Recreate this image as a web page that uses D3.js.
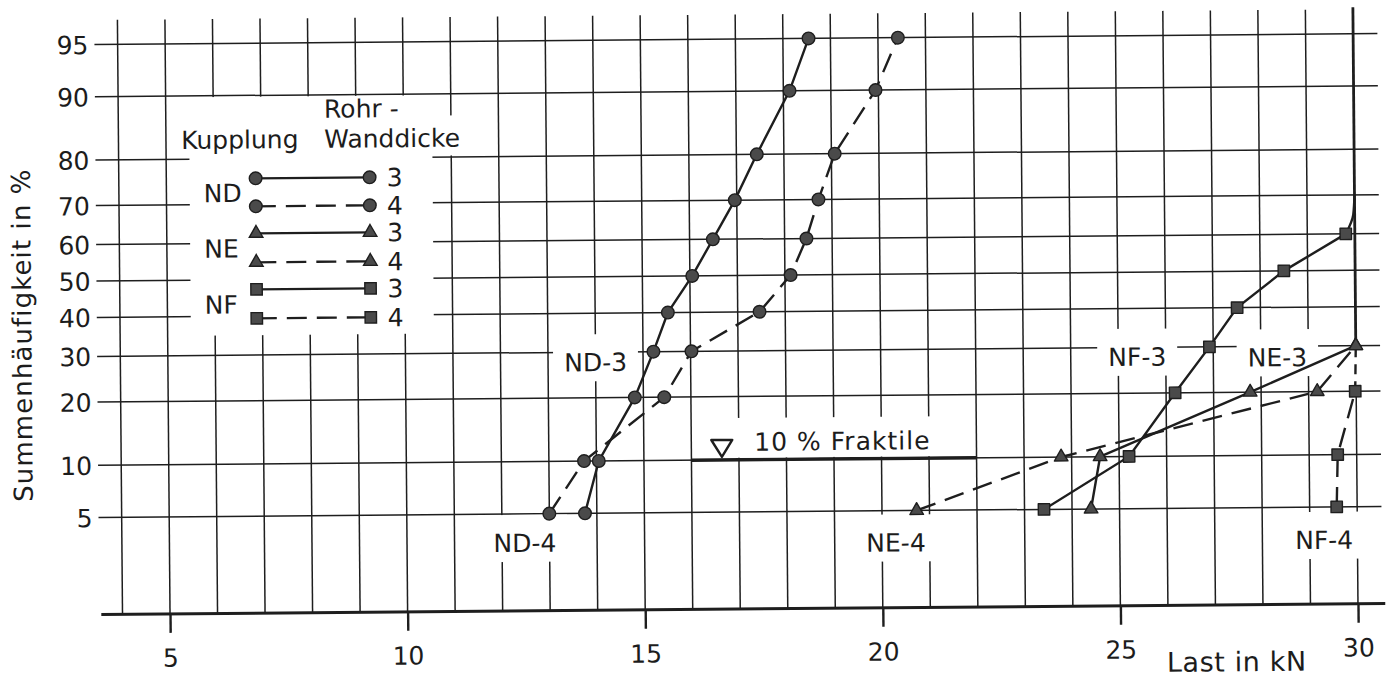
<!DOCTYPE html>
<html><head><meta charset="utf-8">
<script src="https://cdn.jsdelivr.net/npm/d3@7"></script>
<style>
html,body{margin:0;padding:0;background:#fff;}
svg text{font-family:"DejaVu Sans",sans-serif;fill:#1c1c1c;}
</style></head><body>
<svg id="chart" width="1391" height="679"></svg>
<script>
// ---------- data ----------
const percentiles = [5,10,20,30,40,50,60,70,80,90,95];
const yTickLabels = ["5","10","20","30","40","50","60","70","80","90","95"];
const xTicks = [5,10,15,20,25,30];
const xTickLabels = ["5","10","15","20","25","30"];
const xGridValues = [4,5,6,7,8,9,10,11,12,13,14,15,16,17,18,19,20,21,22,23,24,25,26,27,28,29];
const limitLoad = 30;

const ND3 = [13.75,14.05,14.82,15.22,15.53,16.05,16.49,16.96,17.43,18.13,18.54];
const ND4 = [13.0,13.74,15.44,16.02,17.46,18.12,18.46,18.72,19.07,19.94,20.42];
const NE_p = [5,10,20,30];
const NE3 = [24.4,24.6,27.77,30];
const NE4 = [20.73,23.78,29.18,30];
const NF3_p = [5,10,20,30,40,50,60];
const NF3 = [23.41,25.21,26.19,26.92,27.51,28.5,29.81];
const NF4_p = [5,10,20];
const NF4 = [29.57,29.6,29.98];
// continuations into the 30 kN test limit (no markers)
const NF3_ext_x = [29.81,29.97,30], NF3_ext_p = [60,65,70];
const NF4_ext_x = [29.98,30], NF4_ext_p = [20,30];

const legendGroups = ["ND","NE","NF"];
const legendWall = ["3","4"];
const fraktile = {from:16, to:22, p:10, label:"10 % Fraktile"};
const curveLabels = [
  {text:"ND-3", x:14.0,  p:27.6},
  {text:"ND-4", x:12.48, p:3.24},
  {text:"NE-4", x:20.29, p:3.1},
  {text:"NF-3", x:25.40, p:27.8},
  {text:"NE-3", x:28.35, p:27.4},
  {text:"NF-4", x:29.30, p:3.05}
];

// ---------- helpers ----------
function probit(p){
 const a=[-3.969683028665376e+01,2.209460984245205e+02,-2.759285104469687e+02,1.383577518672690e+02,-3.066479806614716e+01,2.506628277459239e+00];
 const b=[-5.447609879822406e+01,1.615858368580409e+02,-1.556989798598866e+02,6.680131188771972e+01,-1.328068155288572e+01];
 const c=[-7.784894002430293e-03,-3.223964580411365e-01,-2.400758277161838e+00,-2.549732539343734e+00,4.374664141464968e+00,2.938163982698783e+00];
 const d=[7.784695709041462e-03,3.224671290700398e-01,2.445134137142996e+00,3.754408661907416e+00];
 const pl=0.02425, ph=1-pl; let q,r;
 if(p<pl){q=Math.sqrt(-2*Math.log(p));return (((((c[0]*q+c[1])*q+c[2])*q+c[3])*q+c[4])*q+c[5])/((((d[0]*q+d[1])*q+d[2])*q+d[3])*q+1);}
 if(p>ph){q=Math.sqrt(-2*Math.log(1-p));return -(((((c[0]*q+c[1])*q+c[2])*q+c[3])*q+c[4])*q+c[5])/((((d[0]*q+d[1])*q+d[2])*q+d[3])*q+1);}
 q=p-0.5;r=q*q;return (((((a[0]*r+a[1])*r+a[2])*r+a[3])*r+a[4])*r+a[5])*q/(((((b[0]*r+b[1])*r+b[2])*r+b[3])*r+b[4])*r+1);
}

const INK = "#1e1e1e";
const MARK = "#4a4a4a";
const FS = 25;

const svg = d3.select("#chart");
svg.append("rect").attr("width",1391).attr("height",679).attr("fill","#fff");
const g = svg.append("g").attr("transform","rotate(-0.49 740 340)");

const x = d3.scaleLinear().domain([5,30]).range([167.7,1355.7]);
const zS = d3.scaleLinear().domain([-1.6449,1.6449]).range([512,39]);
const y = p => zS(probit(p/100));
const L = {hLeft:97, hRight:1380, top:14.5, axisY:609, axisLeft:99, axisRight:1383};

// ---------- grid ----------
const grid = g.append("g").attr("stroke",INK).attr("stroke-width",1.5);
grid.selectAll("line.h").data(percentiles).join("line").attr("class","h")
  .attr("x1",L.hLeft).attr("x2",L.hRight).attr("y1",d=>y(d)).attr("y2",d=>y(d));
grid.selectAll("line.v").data(xGridValues).join("line").attr("class","v")
  .attr("x1",d=>x(d)).attr("x2",d=>x(d)).attr("y1",L.top).attr("y2",L.axisY);
grid.append("line").attr("x1",x(limitLoad)).attr("x2",x(limitLoad))
  .attr("y1",y(20)).attr("y2",L.axisY);

// fraktile line
g.append("line").attr("x1",x(fraktile.from)).attr("x2",x(fraktile.to))
  .attr("y1",y(fraktile.p)).attr("y2",y(fraktile.p))
  .attr("stroke",INK).attr("stroke-width",3.4);

// ---------- white backgrounds ----------
const bg = g.append("g").attr("fill","#fff");
bg.append("rect").attr("x",191).attr("y",92.6).attr("width",243).attr("height",238.4);
bg.append("rect").attr("x",433).attr("y",113).attr("width",31).attr("height",40);
bg.append("rect").attr("x",x(fraktile.from)+8).attr("y",418)
  .attr("width",x(fraktile.to)-x(fraktile.from)-12).attr("height",y(fraktile.p)-2-418);

// curve labels (text measured, box drawn behind)
const labG = g.append("g");
curveLabels.forEach(l=>{
  const t = labG.append("text").attr("x",x(l.x)).attr("y",y(l.p)+9)
    .attr("text-anchor","middle").attr("font-size",FS).text(l.text);
  const bb = t.node().getBBox();
  bg.append("rect").attr("x",bb.x-11).attr("y",bb.y-14)
    .attr("width",bb.width+22).attr("height",bb.height+18);
});

// ---------- axes ----------
g.append("line").attr("x1",L.axisLeft).attr("x2",L.axisRight)
  .attr("y1",L.axisY).attr("y2",L.axisY).attr("stroke",INK).attr("stroke-width",3);

const xAx = g.append("g").attr("transform",`translate(0,${L.axisY})`)
  .call(d3.axisBottom(x).tickValues(xTicks).tickSize(19).tickPadding(16)
        .tickFormat((d,i)=>xTickLabels[i]));
xAx.select(".domain").remove();
xAx.selectAll("line").attr("stroke",INK).attr("stroke-width",2.4);
xAx.selectAll("text").attr("font-size",FS).attr("font-family","DejaVu Sans").attr("fill","#1c1c1c");

const yAx = g.append("g").attr("transform","translate(91,0)")
  .call(d3.axisLeft(zS).tickValues(percentiles.map(p=>probit(p/100))).tickSize(0).tickPadding(0)
        .tickFormat((d,i)=>yTickLabels[i]));
yAx.select(".domain").remove();
yAx.selectAll("text").attr("font-size",FS).attr("font-family","DejaVu Sans").attr("fill","#1c1c1c").attr("dy","0.36em");

g.append("text").attr("transform","translate(22,329) rotate(-90)")
  .attr("text-anchor","middle").attr("dy","0.36em").attr("font-size",26)
  .attr("letter-spacing",1.1).text("Summenhäufigkeit in %");
g.append("text").attr("x",1234).attr("y",675.5)
  .attr("text-anchor","middle").attr("font-size",27).attr("letter-spacing",0.6).text("Last in kN");

// ---------- series ----------
const DASH = "20,10";
const series = [
 {key:"ND-3", xs:ND3, ps:percentiles, sym:d3.symbolCircle,   size:125, dash:null},
 {key:"ND-4", xs:ND4, ps:percentiles, sym:d3.symbolCircle,   size:125, dash:DASH},
 {key:"NE-3", xs:NE3, ps:NE_p,        sym:d3.symbolTriangle, size:80,  dash:null},
 {key:"NE-4", xs:NE4, ps:NE_p,        sym:d3.symbolTriangle, size:80,  dash:DASH},
 {key:"NF-3", xs:NF3, ps:NF3_p,       sym:d3.symbolSquare,   size:130, dash:null},
 {key:"NF-4", xs:NF4, ps:NF4_p,       sym:d3.symbolSquare,   size:130, dash:DASH}
];
const line = d3.line().x(d=>x(d[0])).y(d=>y(d[1]));
const lineG = g.append("g").attr("fill","none").attr("stroke",INK).attr("stroke-width",2.4);

// test-limit line at 30 kN
lineG.append("line").attr("x1",x(limitLoad)).attr("x2",x(limitLoad))
  .attr("y1",y(30)).attr("y2",L.top-2).attr("stroke-width",2.8);
lineG.append("path").attr("d",d3.line().x(d=>x(d[0])).y(d=>y(d[1])).curve(d3.curveMonotoneY)(NF3_ext_x.map((v,i)=>[v,NF3_ext_p[i]])));
lineG.append("path").attr("d",line(NF4_ext_x.map((v,i)=>[v,NF4_ext_p[i]]))).attr("stroke-dasharray","10,7");

series.forEach(s=>{
  const pts = s.xs.map((v,i)=>[v,s.ps[i]]);
  lineG.append("path").attr("d",line(pts)).attr("stroke-dasharray",s.dash);
});
const markG = g.append("g");
series.forEach(s=>{
  const pts = s.xs.map((v,i)=>[v,s.ps[i]]);
  markG.selectAll(null).data(pts).join("path")
    .attr("d",d3.symbol().type(s.sym).size(s.size))
    .attr("transform",d=>`translate(${x(d[0])},${y(d[1])})`)
    .attr("fill",MARK).attr("stroke",INK).attr("stroke-width",1.4).attr("stroke-linejoin","round");
});

// ---------- fraktile annotation ----------
const fx = x(fraktile.from), fy = y(fraktile.p);
g.append("path").attr("d",`M${fx+20},${fy-20} L${fx+41},${fy-20} L${fx+30.5},${fy-3} Z`)
  .attr("fill","#fff").attr("stroke",INK).attr("stroke-width",2.4).attr("stroke-linejoin","round");
g.append("text").attr("x",fx+63).attr("y",fy-9).attr("font-size",FS)
  .attr("letter-spacing",1).text(fraktile.label);

// ---------- legend ----------
const lg = g.append("g");
lg.append("text").attr("x",183).attr("y",144.2).attr("font-size",FS).text("Kupplung");
lg.append("text").attr("x",326).attr("y",114.2).attr("font-size",FS).text("Rohr -");
lg.append("text").attr("x",326).attr("y",144.2).attr("font-size",FS).text("Wanddicke");
const rowY = [174.2,202.2,229.2,258.2,285.2,314.2];
series.forEach((s,i)=>{
  const yy = rowY[i];
  lg.append("line").attr("x1",257).attr("x2",371).attr("y1",yy).attr("y2",yy)
    .attr("stroke",INK).attr("stroke-width",2.4).attr("stroke-dasharray",s.dash);
  [257,371].forEach(xx=>{
    lg.append("path").attr("d",d3.symbol().type(s.sym).size(s.size))
      .attr("transform",`translate(${xx},${yy})`)
      .attr("fill",MARK).attr("stroke",INK).attr("stroke-width",1.4);
  });
  lg.append("text").attr("x",388).attr("y",yy+9).attr("font-size",FS).text(legendWall[i%2]);
});
legendGroups.forEach((t,i)=>{
  lg.append("text").attr("x",205).attr("y",(rowY[2*i]+rowY[2*i+1])/2+9+0.5).attr("font-size",FS).text(t);
});
</script>
</body></html>
